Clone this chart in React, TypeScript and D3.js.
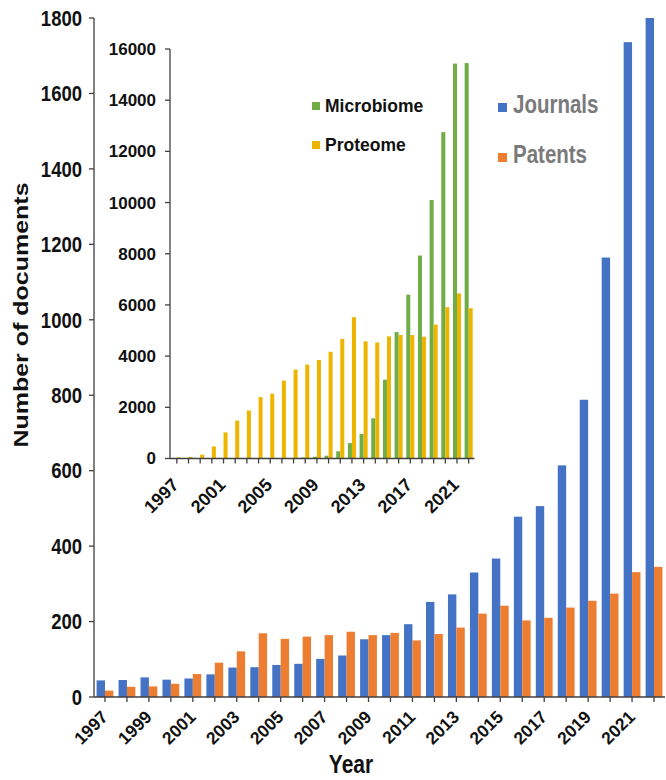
import React from 'react';
import { scaleBand, scaleLinear } from 'd3';

// main chart: journals vs patents per year
const years = ['1997', '1998', '1999', '2000', '2001', '2002', '2003', '2004', '2005', '2006', '2007', '2008', '2009',
  '2010', '2011', '2012', '2013', '2014', '2015', '2016', '2017', '2018', '2019', '2020', '2021', '2022'];
const journals = [44, 45, 52, 46, 49, 60, 78, 79, 85, 88, 101, 110, 153,
  164, 193, 252, 272, 330, 367, 478, 506, 614, 788, 1165, 1736, 1800];
const patents = [17, 27, 28, 35, 61, 91, 121, 169, 154, 160, 164, 173, 164,
  170, 150, 167, 184, 221, 242, 203, 210, 237, 255, 274, 331, 345];
const mainTicks = [0, 200, 400, 600, 800, 1000, 1200, 1400, 1600, 1800];
const mainLabels = ['1997', '1999', '2001', '2003', '2005', '2007', '2009', '2011', '2013', '2015', '2017', '2019', '2021'];

// inset chart: microbiome vs proteome
const microbiome = [0, 0, 0, 0, 0, 0, 0, 0, 0, 0, 0, 40, 70,
  110, 280, 600, 960, 1570, 3080, 4940, 6400, 7930, 10100, 12750, 15430, 15450];
const proteome = [40, 60, 150, 470, 1020, 1480, 1875, 2400, 2530, 3040, 3474, 3670, 3850,
  4170, 4667, 5520, 4575, 4536, 4772, 4824, 4824, 4760, 5230, 5912, 6450, 5873];
const insetTicks = [0, 2000, 4000, 6000, 8000, 10000, 12000, 14000, 16000];
const insetLabels = ['1997', '2001', '2005', '2009', '2013', '2017', '2021'];

const FONT = 'Liberation Sans, Arial, sans-serif';
const AXIS = '#404040';

export default function App() {
  // main scales
  const x0 = scaleBand().domain(years).range([94, 665]).paddingInner(0.235).paddingOuter(0.1175);
  const x1 = scaleBand().domain(['journals', 'patents']).range([0, x0.bandwidth()]);
  const y = scaleLinear().domain([0, 1800]).range([697, 18]);

  // inset scales
  const ix0 = scaleBand().domain(years).range([171, 474.5]).paddingInner(0.31).paddingOuter(0.155);
  const ix1 = scaleBand().domain(['microbiome', 'proteome']).range([0, ix0.bandwidth()]);
  const iy = scaleLinear().domain([0, 16000]).range([458.5, 49]);

  const mid = (s, d) => s(d) + s.bandwidth() / 2;

  return (
    <svg width={666} height={780} style={{ position: 'absolute', left: 0, top: 0, background: '#fff' }}
      fontFamily={FONT} fontWeight="bold">
      {/* main bars */}
      {years.map((yr, i) => (
        <g key={yr}>
          <rect x={x0(yr) + x1('journals')} y={y(journals[i])} width={x1.bandwidth()}
            height={y(0) - y(journals[i])} fill="#4472C4" />
          <rect x={x0(yr) + x1('patents')} y={y(patents[i])} width={x1.bandwidth()}
            height={y(0) - y(patents[i])} fill="#ED7D31" />
        </g>
      ))}

      {/* main axes */}
      <line x1={94} x2={94} y1={y(1800)} y2={y(0)} stroke={AXIS} strokeWidth={1.3} />
      <line x1={94} x2={665} y1={y(0)} y2={y(0)} stroke={AXIS} strokeWidth={1.3} />
      {mainTicks.map((t) => (
        <g key={t}>
          <line x1={89} x2={94} y1={y(t)} y2={y(t)} stroke={AXIS} strokeWidth={1.3} />
          <text transform={`translate(82,${y(t)}) scale(1,1.2)`} dy="0.35em" textAnchor="end"
            fontSize={18.5} fill="#111">{t}</text>
        </g>
      ))}
      {years.map((yr) => (
        <line key={yr} x1={mid(x0, yr)} x2={mid(x0, yr)} y1={y(0)} y2={y(0) + 5} stroke={AXIS} strokeWidth={1.3} />
      ))}
      {mainLabels.map((yr) => (
        <text key={yr} transform={`translate(${mid(x0, yr) + 4},718) rotate(-45)`}
          textAnchor="end" fontSize={17.5} fill="#111">{yr}</text>
      ))}
      <text transform="translate(351,773) scale(1,1.2)" textAnchor="middle" fontSize={21} fill="#111">Year</text>
      <text transform="translate(28,315) rotate(-90) scale(1.25,1)" textAnchor="middle" fontSize={20}
        fill="#111">Number of documents</text>

      {/* main legend */}
      <rect x={498} y={103} width={9} height={9} fill="#4472C4" />
      <text transform="translate(513,113) scale(1,1.28)" fontSize={20.5} fill="#7a7a7a">Journals</text>
      <rect x={498} y={153} width={9} height={9} fill="#ED7D31" />
      <text transform="translate(513,163) scale(1,1.28)" fontSize={20.5} fill="#7a7a7a">Patents</text>

      {/* inset bars */}
      {years.map((yr, i) => (
        <g key={yr}>
          <rect x={ix0(yr) + ix1('microbiome')} y={iy(microbiome[i])} width={ix1.bandwidth()}
            height={iy(0) - iy(microbiome[i])} fill="#70AD47" />
          <rect x={ix0(yr) + ix1('proteome')} y={iy(proteome[i])} width={ix1.bandwidth()}
            height={iy(0) - iy(proteome[i])} fill="#EEB500" />
        </g>
      ))}

      {/* inset axes */}
      <line x1={170} x2={170} y1={iy(16000)} y2={iy(0)} stroke={AXIS} strokeWidth={1.3} />
      <line x1={170} x2={474.5} y1={iy(0)} y2={iy(0)} stroke={AXIS} strokeWidth={1.3} />
      {insetTicks.map((t) => (
        <g key={t}>
          <line x1={165} x2={170} y1={iy(t)} y2={iy(t)} stroke={AXIS} strokeWidth={1.3} />
          <text x={156} y={iy(t)} dy="0.35em" textAnchor="end" fontSize={17} fill="#111">{t}</text>
        </g>
      ))}
      {years.map((yr) => (
        <line key={yr} x1={mid(ix0, yr)} x2={mid(ix0, yr)} y1={iy(0)} y2={iy(0) + 5} stroke={AXIS} strokeWidth={1.3} />
      ))}
      {insetLabels.map((yr) => (
        <text key={yr} transform={`translate(${mid(ix0, yr) + 3},486) rotate(-45)`}
          textAnchor="end" fontSize={18} fill="#111">{yr}</text>
      ))}

      {/* inset legend */}
      <rect x={312} y={102} width={8} height={8} fill="#70AD47" />
      <text x={325} y={112} fontSize={17.5} fill="#111">Microbiome</text>
      <rect x={312} y={141} width={8} height={8} fill="#EEB500" />
      <text x={325} y={151} fontSize={17.5} fill="#111">Proteome</text>
    </svg>
  );
}
